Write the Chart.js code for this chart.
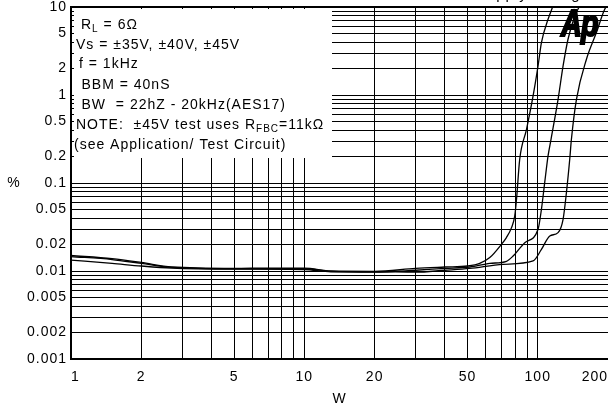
<!DOCTYPE html>
<html>
<head>
<meta charset="utf-8">
<script src="https://cdn.jsdelivr.net/npm/chart.js@4/dist/chart.umd.min.js"></script>
<style>
  html, body { margin: 0; padding: 0; background: #fff; }
  canvas { display: block; }
</style>
</head>
<body>
<canvas id="myChart" width="608" height="406"></canvas>
<script>
// tick values (grid lines) and which of them carry a label
const xTicks = [1, 2, 3, 4, 5, 6, 7, 8, 9, 10, 20, 30, 40, 50, 60, 70, 80, 90, 100, 200];
const xLabels = [1, 2, 5, 10, 20, 50, 100, 200];
const yTicks = [0.001, 0.002, 0.003, 0.004, 0.005, 0.006, 0.007, 0.008, 0.009,
                0.01, 0.02, 0.03, 0.04, 0.05, 0.06, 0.07, 0.08, 0.09,
                0.1, 0.2, 0.3, 0.4, 0.5, 0.6, 0.7, 0.8, 0.9,
                1, 2, 3, 4, 5, 6, 7, 8, 9, 10];
const yLabels = [0.001, 0.002, 0.005, 0.01, 0.02, 0.05, 0.1, 0.2, 0.5, 1, 2, 5, 10];

// THD+N (%) vs output power (W), one series per supply voltage
const watts35 = [1, 1.5, 2, 2.7, 5, 7, 10, 13, 20, 30, 40, 50, 56.4, 62.3, 69.9, 73.4, 77.2, 79.7, 81.1, 83.7, 89.5, 95.5, 100.3, 103.7, 110.7, 116.3];
const thd35 = [0.0150, 0.0138, 0.0125, 0.0111, 0.0107, 0.0108, 0.0108, 0.0100, 0.0099, 0.0107, 0.0111, 0.0114, 0.0122, 0.0142, 0.0201, 0.0240, 0.0311, 0.0422, 0.0653, 0.186, 0.407, 0.975, 2.14, 3.94, 7.25, 10.3];

const watts40 = [1, 1.5, 2, 2.7, 5, 10, 13, 20, 30, 40, 51.1, 62.3, 73.4, 78.4, 88.0, 100.3, 103.7, 107.1, 110.7, 114.0, 122.2, 128.4, 134.8, 144.1, 151.3];
const thd40 = [0.0146, 0.0135, 0.0122, 0.0110, 0.0106, 0.0106, 0.0099, 0.0097, 0.0102, 0.0107, 0.0111, 0.0122, 0.0129, 0.0148, 0.0210, 0.0298, 0.0502, 0.101, 0.203, 0.314, 0.894, 2.14, 4.30, 7.90, 10.3];

const watts45 = [1, 1.5, 2, 2.7, 5, 10, 13, 20, 30, 40, 51.1, 71.0, 95.5, 103.7, 112.6, 122.2, 128.4, 132.7, 137.1, 139.4, 146.5, 161.7, 178.4, 193.6, 200];
const thd45 = [0.0133, 0.0122, 0.0114, 0.0108, 0.0105, 0.0104, 0.0098, 0.0098, 0.0097, 0.0102, 0.0107, 0.0119, 0.0130, 0.0176, 0.0250, 0.0273, 0.0387, 0.0778, 0.186, 0.314, 0.894, 2.55, 5.12, 9.42, 10.6];

const chartTitle = 'THD+N vs Power vs Supply Voltage';
const noteText = [
    'R_{L} = 6\u03A9',
    'Vs = \u00B135V, \u00B140V, \u00B145V',
    'f = 1kHz',
    'BBM = 40nS',
    'BW  = 22hZ - 20kHz(AES17)',
    'NOTE:  \u00B145V test uses R_{FBC}=11k\u03A9',
    '(see Application/ Test Circuit)'
];

const FONT = '"Liberation Sans", Arial, sans-serif';

function toPoints(xs, ys) {
    return xs.map((x, i) => ({x: x, y: ys[i]}));
}

// draws text with _{...} parts as subscripts
function drawRich(ctx, str, x, y) {
    var parts = str.split(/_\{([^}]*)\}/);
    for (var i = 0; i < parts.length; i++) {
        if (!parts[i]) continue;
        if (i % 2 === 1) {
            ctx.font = '10px ' + FONT;
            ctx.fillText(parts[i], x, y + 3);
        } else {
            ctx.font = '14px ' + FONT;
            ctx.fillText(parts[i], x, y);
        }
        x += ctx.measureText(parts[i]).width;
    }
}

const extrasPlugin = {
    id: 'extras',
    beforeDraw(chart) {
        chart.ctx.letterSpacing = '1px';
    },
    beforeDatasetsDraw(chart) {
        var ctx = chart.ctx;
        ctx.save();
        // white note box over the grid
        ctx.fillStyle = '#fff';
        ctx.fillRect(74, 9, 258, 149);
        ctx.fillStyle = '#000';
        ctx.textAlign = 'left';
        ctx.textBaseline = 'alphabetic';
        var xs = [81, 76, 79, 81.5, 81.5, 76, 74];
        var ys = [28.5, 48.5, 68, 88.5, 108.5, 129, 149];
        noteText.forEach((t, i) => drawRich(ctx, t, xs[i], ys[i]));
        ctx.restore();
    },
    afterDraw(chart) {
        var ctx = chart.ctx;
        var area = chart.chartArea;
        ctx.save();
        ctx.fillStyle = '#000';
        // y axis unit, horizontal
        ctx.font = '14px ' + FONT;
        ctx.textAlign = 'center';
        ctx.textBaseline = 'middle';
        ctx.fillText('%', 14, (area.top + area.bottom) / 2);
        // title, mostly above the picture
        ctx.font = '15px ' + FONT;
        ctx.textAlign = 'right';
        ctx.textBaseline = 'alphabetic';
        ctx.fillText(chartTitle, 590, -1.5);
        // Ap logo
        ctx.translate(561, 36);
        ctx.scale(0.78, 1);
        ctx.font = 'italic bold 37px ' + FONT;
        ctx.textAlign = 'left';
        ctx.letterSpacing = '-1px';
        ctx.strokeStyle = '#000';
        ctx.lineWidth = 2;
        ctx.strokeText('Ap', 0, 0);
        ctx.fillText('Ap', 0, 0);
        ctx.restore();
    }
};

function lineSet(label, xs, ys) {
    return {
        label: label,
        data: toPoints(xs, ys),
        borderColor: '#000',
        borderWidth: 1.3,
        pointRadius: 0,
        fill: false,
        cubicInterpolationMode: 'monotone'
    };
}

var ctx = document.getElementById('myChart').getContext('2d');
var chart = new Chart(ctx, {
    type: 'line',
    data: {
        datasets: [
            lineSet('+35V', watts35, thd35),
            lineSet('+40V', watts40, thd40),
            lineSet('+45V', watts45, thd45)
        ]
    },
    options: {
        responsive: false,
        animation: false,
        devicePixelRatio: 1,
        layout: { padding: { top: 7, right: 0, bottom: 0, left: 0 } },
        plugins: {
            legend: { display: false },
            tooltip: { enabled: false },
            title: { display: false }
        },
        scales: {
            x: {
                type: 'logarithmic',
                min: 1,
                max: 200,
                afterBuildTicks: (axis) => { axis.ticks = xTicks.map(v => ({value: v})); },
                afterFit: (axis) => {
                    axis.height = 47;
                    axis.paddingLeft = 0;
                    axis.paddingRight = 0;
                },
                grid: { color: '#000', lineWidth: 1, drawTicks: false },
                border: { color: '#000', width: 2 },
                ticks: {
                    autoSkip: false,
                    maxRotation: 0,
                    align: 'inner',
                    padding: 10,
                    color: '#000',
                    font: { family: FONT, size: 14 },
                    callback: (v) => xLabels.includes(v) ? String(v) : ''
                },
                title: {
                    display: true,
                    text: 'W',
                    color: '#000',
                    font: { family: FONT, size: 14 },
                    padding: { top: 0, bottom: -2 }
                }
            },
            y: {
                type: 'logarithmic',
                min: 0.001,
                max: 10,
                afterBuildTicks: (axis) => { axis.ticks = yTicks.map(v => ({value: v})); },
                afterFit: (axis) => {
                    axis.width = 71;
                    axis.paddingTop = 0;
                    axis.paddingBottom = 0;
                },
                grid: {
                    color: '#000',
                    drawTicks: false,
                    lineWidth: (c) => (c.tick && c.tick.value === 10) ? 2 : 1
                },
                border: { color: '#000', width: 2 },
                ticks: {
                    autoSkip: false,
                    padding: 4,
                    color: '#000',
                    font: { family: FONT, size: 14 },
                    callback: (v) => yLabels.includes(v) ? String(v) : ''
                }
            }
        }
    },
    plugins: [extrasPlugin]
});
</script>
</body>
</html>
